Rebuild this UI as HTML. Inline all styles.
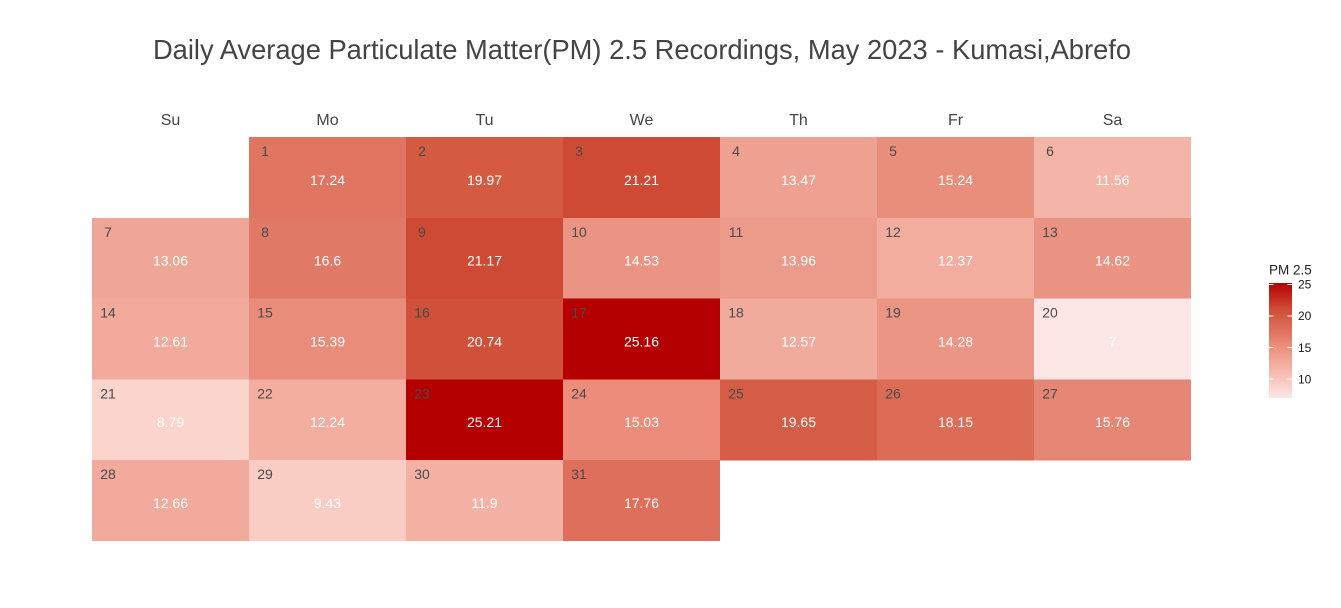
<!DOCTYPE html>
<html>
<head>
<meta charset="utf-8">
<style>
  html, body { margin: 0; padding: 0; background: #ffffff; }
  svg { display: block; }
  text { font-family: "Liberation Sans", Arial, sans-serif; }
</style>
</head>
<body>
<svg width="1341" height="608" viewBox="0 0 1341 608" xmlns="http://www.w3.org/2000/svg">
  <defs>
    <linearGradient id="cb" x1="0" y1="0" x2="0" y2="1">
      <stop offset="0" stop-color="#b40000"/>
      <stop offset="0.22" stop-color="#ce4a34"/>
      <stop offset="0.288" stop-color="#d45a42"/>
      <stop offset="0.438" stop-color="#e07662"/>
      <stop offset="0.547" stop-color="#ea8e7c"/>
      <stop offset="0.667" stop-color="#efa696"/>
      <stop offset="0.75" stop-color="#f4b5a8"/>
      <stop offset="0.867" stop-color="#f9ccc4"/>
      <stop offset="1" stop-color="#fde6e6"/>
    </linearGradient>
  </defs>
  <rect width="1341" height="608" fill="#ffffff"/>

  <!-- Title -->
  <text x="642" y="59" text-anchor="middle" font-size="27.3" fill="#444444">Daily Average Particulate Matter(PM) 2.5 Recordings, May 2023 - Kumasi,Abrefo</text>

  <!-- Day labels -->
  <g font-size="16" fill="#444444" text-anchor="middle">
    <text x="170.5" y="125">Su</text>
    <text x="327.5" y="125">Mo</text>
    <text x="484.5" y="125">Tu</text>
    <text x="641.5" y="125">We</text>
    <text x="798.5" y="125">Th</text>
    <text x="955.5" y="125">Fr</text>
    <text x="1112.5" y="125">Sa</text>
  </g>

  <!-- Cells -->
  <g shape-rendering="crispEdges">
    <rect x="249" y="137" width="157" height="81" fill="#e07662"/>
    <rect x="406" y="137" width="157" height="81" fill="#d45a42"/>
    <rect x="563" y="137" width="157" height="81" fill="#ce4a34"/>
    <rect x="720" y="137" width="157" height="81" fill="#eea190"/>
    <rect x="877" y="137" width="157" height="81" fill="#ea8e7c"/>
    <rect x="1034" y="137" width="157" height="81" fill="#f4b5a8"/>

    <rect x="92" y="217.8" width="157" height="81" fill="#efa696"/>
    <rect x="249" y="217.8" width="157" height="81" fill="#e07a66"/>
    <rect x="406" y="217.8" width="157" height="81" fill="#ce4a34"/>
    <rect x="563" y="217.8" width="157" height="81" fill="#eb9483"/>
    <rect x="720" y="217.8" width="157" height="81" fill="#ec9a89"/>
    <rect x="877" y="217.8" width="157" height="81" fill="#f2ad9e"/>
    <rect x="1034" y="217.8" width="157" height="81" fill="#eb9382"/>

    <rect x="92" y="298.6" width="157" height="81" fill="#f1aa9c"/>
    <rect x="249" y="298.6" width="157" height="81" fill="#e98c7a"/>
    <rect x="406" y="298.6" width="157" height="81" fill="#d05039"/>
    <rect x="563" y="298.6" width="157" height="81" fill="#b40000"/>
    <rect x="720" y="298.6" width="157" height="81" fill="#f1ab9c"/>
    <rect x="877" y="298.6" width="157" height="81" fill="#eb9685"/>
    <rect x="1034" y="298.6" width="157" height="81" fill="#fde6e6"/>

    <rect x="92" y="379.4" width="157" height="81" fill="#fbd4cc"/>
    <rect x="249" y="379.4" width="157" height="81" fill="#f3aea0"/>
    <rect x="406" y="379.4" width="157" height="81" fill="#b40000"/>
    <rect x="563" y="379.4" width="157" height="81" fill="#ec8c7a"/>
    <rect x="720" y="379.4" width="157" height="81" fill="#d55d45"/>
    <rect x="877" y="379.4" width="157" height="81" fill="#dc6c56"/>
    <rect x="1034" y="379.4" width="157" height="81" fill="#e68674"/>

    <rect x="92" y="460.2" width="157" height="80.8" fill="#f1aa9b"/>
    <rect x="249" y="460.2" width="157" height="80.8" fill="#f9ccc4"/>
    <rect x="406" y="460.2" width="157" height="80.8" fill="#f4b2a4"/>
    <rect x="563" y="460.2" width="157" height="80.8" fill="#de705b"/>
  </g>

  <!-- Date numbers -->
  <g font-size="14" fill="#4a4a4a" text-anchor="middle">
    <text x="265" y="156">1</text>
    <text x="422" y="156">2</text>
    <text x="579" y="156">3</text>
    <text x="736" y="156">4</text>
    <text x="893" y="156">5</text>
    <text x="1050" y="156">6</text>

    <text x="108" y="236.8">7</text>
    <text x="265" y="236.8">8</text>
    <text x="422" y="236.8">9</text>
    <text x="579" y="236.8">10</text>
    <text x="736" y="236.8">11</text>
    <text x="893" y="236.8">12</text>
    <text x="1050" y="236.8">13</text>

    <text x="108" y="317.6">14</text>
    <text x="265" y="317.6">15</text>
    <text x="422" y="317.6">16</text>
    <text x="579" y="317.6">17</text>
    <text x="736" y="317.6">18</text>
    <text x="893" y="317.6">19</text>
    <text x="1050" y="317.6">20</text>

    <text x="108" y="398.4">21</text>
    <text x="265" y="398.4">22</text>
    <text x="422" y="398.4">23</text>
    <text x="579" y="398.4">24</text>
    <text x="736" y="398.4">25</text>
    <text x="893" y="398.4">26</text>
    <text x="1050" y="398.4">27</text>

    <text x="108" y="479.2">28</text>
    <text x="265" y="479.2">29</text>
    <text x="422" y="479.2">30</text>
    <text x="579" y="479.2">31</text>
  </g>

  <!-- Values -->
  <g font-size="14" fill="#ffffff" text-anchor="middle">
    <text x="327.5" y="185">17.24</text>
    <text x="484.5" y="185">19.97</text>
    <text x="641.5" y="185">21.21</text>
    <text x="798.5" y="185">13.47</text>
    <text x="955.5" y="185">15.24</text>
    <text x="1112.5" y="185">11.56</text>

    <text x="170.5" y="265.6">13.06</text>
    <text x="327.5" y="265.6">16.6</text>
    <text x="484.5" y="265.6">21.17</text>
    <text x="641.5" y="265.6">14.53</text>
    <text x="798.5" y="265.6">13.96</text>
    <text x="955.5" y="265.6">12.37</text>
    <text x="1112.5" y="265.6">14.62</text>

    <text x="170.5" y="346.4">12.61</text>
    <text x="327.5" y="346.4">15.39</text>
    <text x="484.5" y="346.4">20.74</text>
    <text x="641.5" y="346.4">25.16</text>
    <text x="798.5" y="346.4">12.57</text>
    <text x="955.5" y="346.4">14.28</text>
    <text x="1112.5" y="346.4">7</text>

    <text x="170.5" y="427.2">8.79</text>
    <text x="327.5" y="427.2">12.24</text>
    <text x="484.5" y="427.2">25.21</text>
    <text x="641.5" y="427.2">15.03</text>
    <text x="798.5" y="427.2">19.65</text>
    <text x="955.5" y="427.2">18.15</text>
    <text x="1112.5" y="427.2">15.76</text>

    <text x="170.5" y="508">12.66</text>
    <text x="327.5" y="508">9.43</text>
    <text x="484.5" y="508">11.9</text>
    <text x="641.5" y="508">17.76</text>
  </g>

  <!-- Legend -->
  <text x="1269" y="274.3" font-size="13.5" fill="#222222">PM 2.5</text>
  <rect x="1269" y="283" width="23" height="115" fill="url(#cb)"/>
  <g stroke="#ffffff" stroke-width="1" shape-rendering="crispEdges">
    <line x1="1269" y1="284.3" x2="1273.6" y2="284.3"/>
    <line x1="1287.4" y1="284.3" x2="1292" y2="284.3"/>
    <line x1="1269" y1="315.9" x2="1273.6" y2="315.9"/>
    <line x1="1287.4" y1="315.9" x2="1292" y2="315.9"/>
    <line x1="1269" y1="347.5" x2="1273.6" y2="347.5"/>
    <line x1="1287.4" y1="347.5" x2="1292" y2="347.5"/>
    <line x1="1269" y1="379" x2="1273.6" y2="379"/>
    <line x1="1287.4" y1="379" x2="1292" y2="379"/>
  </g>
  <g font-size="12" fill="#1a1a1a">
    <text x="1298" y="288.6">25</text>
    <text x="1298" y="320.2">20</text>
    <text x="1298" y="351.8">15</text>
    <text x="1298" y="383.3">10</text>
  </g>
</svg>
</body>
</html>
